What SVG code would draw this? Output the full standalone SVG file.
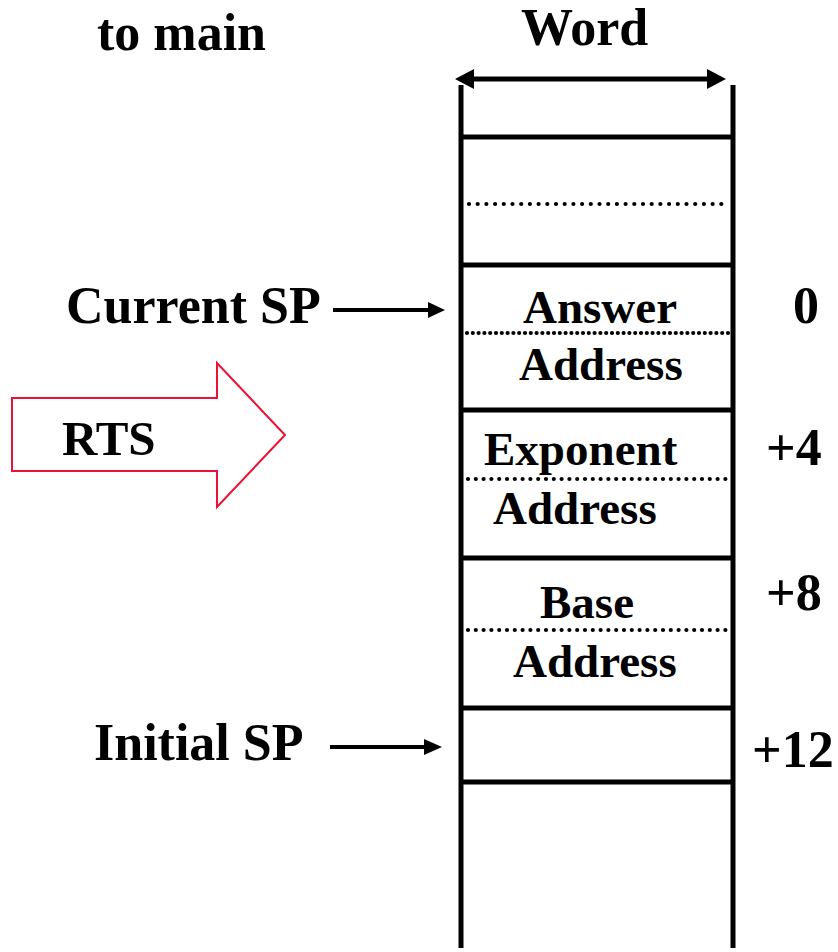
<svg xmlns="http://www.w3.org/2000/svg" width="838" height="952" viewBox="0 0 838 952">
  <style>
    text { font-family: "Liberation Serif", "Times New Roman", serif; font-weight: bold; fill: #000; }
    .lbl { font-size: 52px; }
    .cell { font-size: 47px; }
    .wall { stroke: #000; stroke-width: 5; fill: none; }
    .dots { stroke: #000; stroke-width: 4.2; stroke-linecap: round; fill: none; }
    .ptr { stroke: #000; stroke-width: 4; fill: none; }
    .tip { fill: #000; }
  </style>

  <rect width="838" height="952" fill="#fff"/>

  <!-- headings -->
  <g id="to-main"><text class="lbl" x="97" y="50">to main</text></g>
  <g id="word-width">
    <text class="lbl" x="521" y="45">Word</text>
  </g>

  <!-- stack frame -->
  <g id="stack">
    <line class="wall" x1="461" y1="85" x2="461" y2="948"/>
    <line class="wall" x1="733" y1="85" x2="733" y2="948"/>
    <line class="wall" x1="461" y1="137" x2="733" y2="137"/>
    <line class="wall" x1="461" y1="265" x2="733" y2="265"/>
    <line class="wall" x1="461" y1="410" x2="733" y2="410"/>
    <line class="wall" x1="461" y1="558" x2="733" y2="558"/>
    <line class="wall" x1="461" y1="708" x2="733" y2="708"/>
    <line class="wall" x1="461" y1="782" x2="733" y2="782"/>
    <line class="dots" x1="469" y1="204" x2="729" y2="204" stroke-dasharray="0 8.7"/>
  </g>

  <g id="slot-answer">
    <text class="cell" x="523" y="323">Answer</text>
    <line class="dots" x1="467" y1="333" x2="729" y2="333" stroke-dasharray="0 5.8"/>
    <text class="cell" x="519" y="380">Address</text>
    <text class="lbl" x="793" y="323">0</text>
  </g>

  <g id="slot-exponent">
    <text class="cell" x="484" y="465">Exponent</text>
    <line class="dots" x1="468" y1="479" x2="729" y2="479" stroke-dasharray="0 7.8"/>
    <text class="cell" x="493" y="524">Address</text>
    <text class="lbl" x="766" y="465">+4</text>
  </g>

  <g id="slot-base">
    <text class="cell" x="540" y="618">Base</text>
    <line class="dots" x1="468" y1="630" x2="729" y2="630" stroke-dasharray="0 7.8"/>
    <text class="cell" x="513" y="677">Address</text>
    <text class="lbl" x="766" y="610">+8</text>
  </g>

  <g id="slot-initial">
    <text class="lbl" x="752" y="767">+12</text>
  </g>

  <g id="current-sp"><text class="lbl" x="66" y="323">Current SP</text></g>
  <g id="initial-sp"><text class="lbl" x="94" y="760">Initial SP</text></g>

  <!-- RTS block arrow -->
  <g id="rts">
    <polygon points="12,398 217,398 217,363 285,435 217,507 217,471 12,471" fill="#fff" stroke="#ee1133" stroke-width="2"/>
    <text x="62" y="455" style="font-size:49px">RTS</text>
  </g>

  <!-- connectors -->
  <g id="connectors">
    <!-- word width, double-headed -->
    <line class="wall" x1="470" y1="79" x2="711" y2="79"/>
    <polygon class="tip" points="455,79 474,69 474,89"/>
    <polygon class="tip" points="726,79 707,69 707,89"/>
    <!-- stack pointers -->
    <line class="ptr" x1="333" y1="310" x2="430" y2="310"/>
    <polygon class="tip" points="445,310 428,302 428,318"/>
    <line class="ptr" x1="330" y1="747" x2="425" y2="747"/>
    <polygon class="tip" points="442,747 424,739 424,755"/>
  </g>
</svg>
